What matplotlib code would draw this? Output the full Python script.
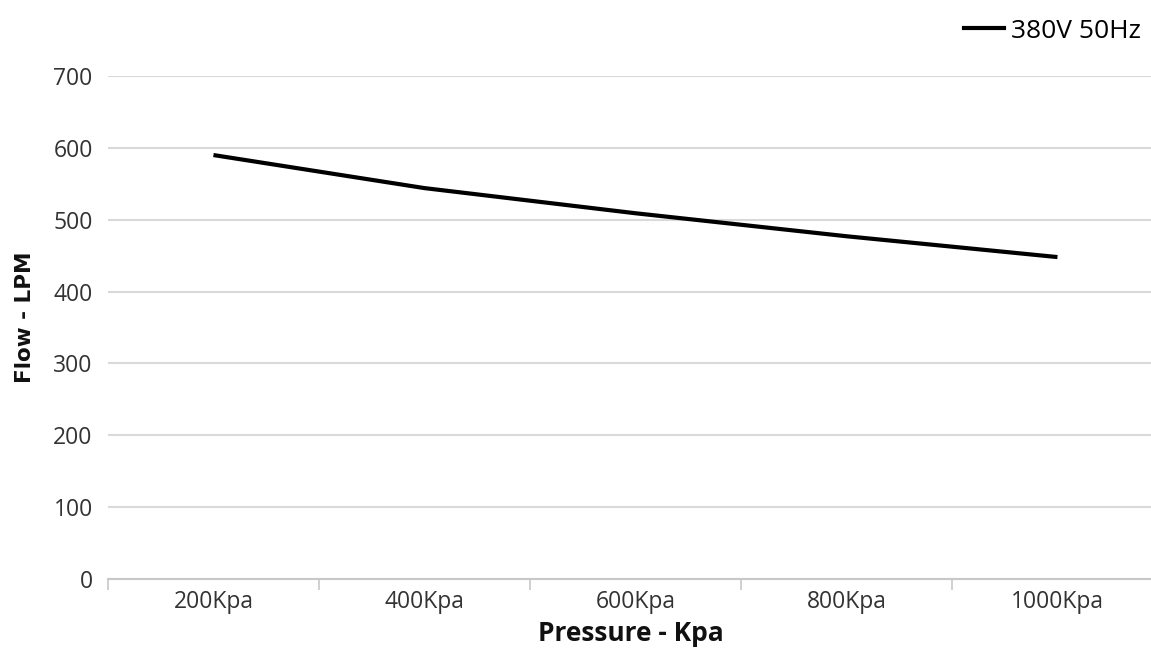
import matplotlib
matplotlib.use("Agg")
import matplotlib.pyplot as plt
from matplotlib.lines import Line2D

categories = ["200Kpa", "400Kpa", "600Kpa", "800Kpa", "1000Kpa"]
flow_380v = [590, 544, 509, 477, 448]
series_name = "380V 50Hz"
y_ticks = [0, 100, 200, 300, 400, 500, 600, 700]

plt.rcParams['font.family'] = ['Open Sans', 'DejaVu Sans']

fig = plt.figure(figsize=(11.51, 6.48), dpi=100)
ax = fig.add_axes([0.0938, 0.1065, 0.9166, 0.7762])

x = list(range(len(categories)))
ax.plot(x, flow_380v, color="black", lw=3, solid_capstyle="butt", zorder=3)

ax.set_xlim(-0.5, len(categories) - 0.5)
ax.set_ylim(0, 700)
ax.set_yticks(y_ticks)
ax.set_yticklabels([str(v) for v in y_ticks], fontsize=16.5, color="#333333")
ax.set_xticks(x)
ax.set_xticklabels(categories, fontsize=16.5, color="#333333")
ax.tick_params(axis="x", length=0, pad=8)
ax.tick_params(axis="y", length=0, pad=11)
# category boundary ticks
ax.set_xticks([i - 0.5 for i in range(len(categories) + 1)], minor=True)
ax.tick_params(axis="x", which="minor", length=8, color="#c8c8c8", width=1.2)

ax.grid(axis="y", color="#d9d9d9", lw=1.5)
ax.set_axisbelow(True)
for s in ["top", "right", "left"]:
    ax.spines[s].set_visible(False)
ax.spines["bottom"].set_color("#c8c8c8")
ax.spines["bottom"].set_linewidth(1.5)

fig.text(0.548, 0.022, "Pressure - Kpa", fontsize=19, fontweight="bold",
         ha="center", va="center", color="#111111")
fig.text(0.022, 0.51, "Flow - LPM", fontsize=15.5, fontweight="bold",
         ha="center", va="center", rotation=90, color="#111111",
         family="DejaVu Sans")

handle = Line2D([], [], color="black", lw=3)
fig.legend([handle], [series_name], loc="center right",
           bbox_to_anchor=(1.0, 0.952), frameon=False, fontsize=19,
           handlelength=1.5, handletextpad=0.25, borderaxespad=0.0)

fig.savefig("out.png", dpi=100, facecolor="white")
